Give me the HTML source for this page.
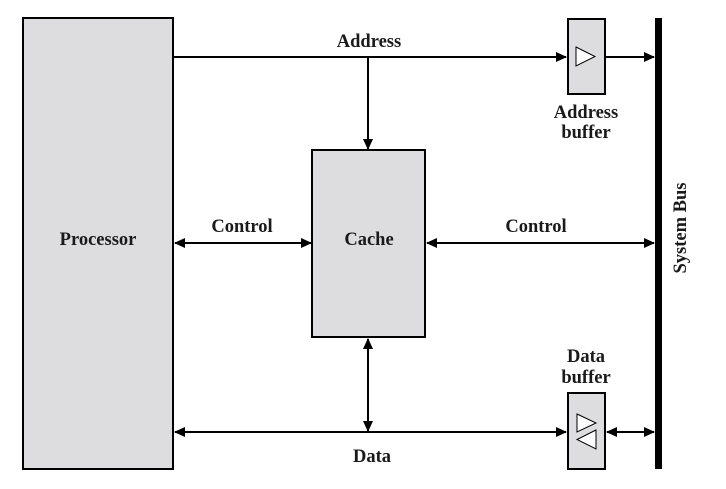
<!DOCTYPE html>
<html><head><style>body{margin:0;background:#fff}svg{display:block}text{font-family:"Liberation Serif",serif;font-weight:bold;font-size:18.5px;fill:#1a1a1a}</style></head><body>
<svg width="726" height="489" viewBox="0 0 726 489">
<defs><marker id="a" markerWidth="11" markerHeight="10" refX="10" refY="5" orient="auto-start-reverse" markerUnits="userSpaceOnUse"><path d="M0,0L11,5L0,10z" fill="#000"/></marker></defs>
<g stroke="#000" stroke-width="2" fill="#dddcdf">
<rect x="23" y="18" width="150" height="451"/>
<rect x="312" y="150" width="113" height="187"/>
<rect x="568" y="19" width="37" height="75"/>
<rect x="568" y="393" width="37" height="76"/>
</g>
<rect x="655" y="18" width="7" height="451" fill="#000"/>
<g stroke="#000" stroke-width="2" fill="none">
<line x1="174" y1="57" x2="566" y2="57" marker-end="url(#a)"/>
<line x1="606" y1="57" x2="654" y2="57" marker-end="url(#a)"/>
<line x1="368" y1="57" x2="368" y2="149" marker-end="url(#a)"/>
<line x1="175" y1="243" x2="311" y2="243" marker-start="url(#a)" marker-end="url(#a)"/>
<line x1="427" y1="243" x2="654" y2="243" marker-start="url(#a)" marker-end="url(#a)"/>
<line x1="175" y1="432" x2="566" y2="432" marker-start="url(#a)" marker-end="url(#a)"/>
<line x1="368" y1="339" x2="368" y2="431" marker-start="url(#a)" marker-end="url(#a)"/>
<line x1="607" y1="432" x2="654" y2="432" marker-start="url(#a)" marker-end="url(#a)"/>
</g>
<g stroke="#000" stroke-width="1" fill="#fff">
<path d="M576,47L595,56.5L576,66z"/>
<path d="M577,414L596,423L577,432z"/>
<path d="M596,430L577,439.5L596,449z"/>
</g>
<text x="369" y="47" text-anchor="middle">Address</text>
<text x="98" y="245" text-anchor="middle">Processor</text>
<text x="369" y="245" text-anchor="middle">Cache</text>
<text x="242" y="232" text-anchor="middle">Control</text>
<text x="536" y="232" text-anchor="middle">Control</text>
<text x="372" y="462" text-anchor="middle">Data</text>
<text x="586" y="118" text-anchor="middle">Address</text>
<text x="586" y="138" text-anchor="middle">buffer</text>
<text x="586" y="362" text-anchor="middle">Data</text>
<text x="586" y="383" text-anchor="middle">buffer</text>
<text transform="translate(686,228) rotate(-90)" text-anchor="middle">System Bus</text>
</svg>
</body></html>
